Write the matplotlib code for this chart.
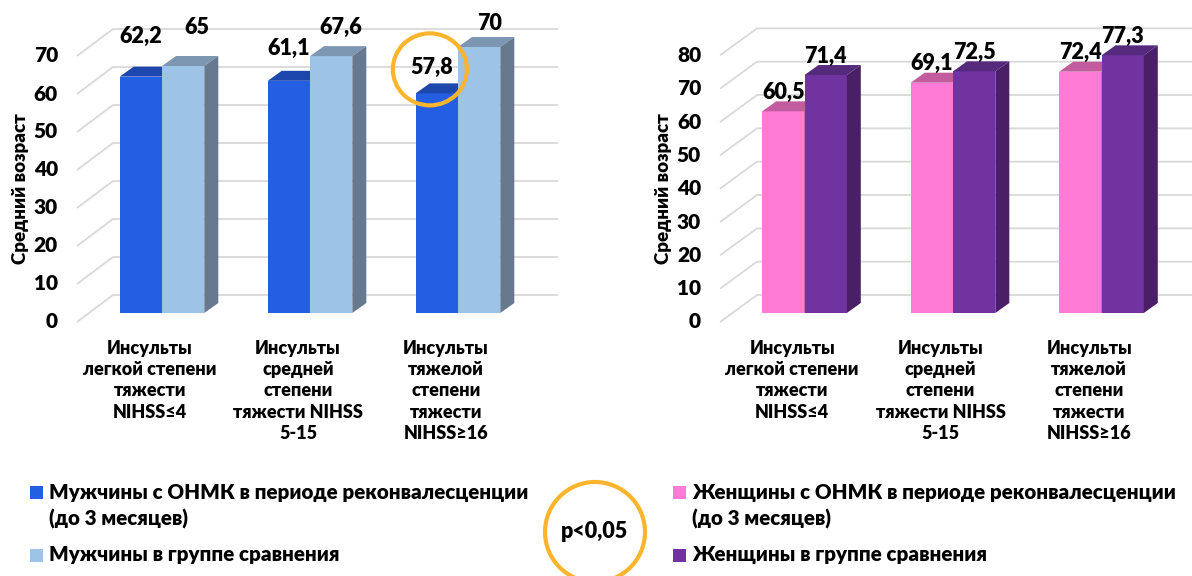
import matplotlib
matplotlib.use("Agg")
import matplotlib.pyplot as plt
from matplotlib.patches import Polygon, Rectangle, Ellipse

plt.rcParams['font.family'] = ['Lato', 'DejaVu Sans']
plt.rcParams['font.weight'] = 'heavy'

# data
categories = [
    "Инсульты\nлегкой степени\nтяжести\nNIHSS≤4",
    "Инсульты\nсредней\nстепени\nтяжести NIHSS\n5-15",
    "Инсульты\nтяжелой\nстепени\nтяжести\nNIHSS≥16",
]
men_stroke = [62.2, 61.1, 57.8]
men_control = [65, 67.6, 70]
women_stroke = [60.5, 69.1, 72.4]
women_control = [71.4, 72.5, 77.3]
men_ticks = [0, 10, 20, 30, 40, 50, 60, 70]
women_ticks = [0, 10, 20, 30, 40, 50, 60, 70, 80]
ylabel = "Средний возраст"
men_legend = ["Мужчины с ОНМК в периоде реконвалесценции\n(до 3 месяцев)",
              "Мужчины в группе сравнения"]
women_legend = ["Женщины с ОНМК в периоде реконвалесценции\n(до 3 месяцев)",
                "Женщины в группе сравнения"]
p_text = "p<0,05"

# colours: front, top, side
men_colors = [("#245FE3", "#1E47AE", "#1B3F96"), ("#9DC3E6", "#7D96B1", "#66798F")]
women_colors = [("#FF7BD6", "#C35C9E", "#A34E86"), ("#7033A0", "#552A7C", "#4B1F66")]
RING = "#FBB52C"

W, H = 1192, 576
fig = plt.figure(figsize=(W / 100, H / 100), dpi=100)


def to_fig(x, y):
    return x / W, 1 - y / H


def panel(x0, x1, cx0, step, scale, wall_x, grid_end, depth_dx, ticks,
          values, colors, label_offsets):
    """Pseudo-3D clustered bar panel. Geometry args are pixel measurements."""
    floor = 313
    ax = fig.add_axes([x0 / W, 0, (x1 - x0) / W, 1])
    ax.set_xlim((x0 - cx0) / step, (x1 - cx0) / step)
    ax.set_ylim(-(H - floor) / scale, floor / scale)
    ax.axis("off")

    px = lambda d: d / step      # horizontal pixels -> data
    py = lambda d: d / scale     # vertical pixels -> data

    # bars sit one third of the way into the depth of the box
    front_dx = -depth_dx / 3
    for v in ticks:
        xa = px(wall_x - cx0)
        ya = v - py(9)
        xb = xa + px(depth_dx)
        yb = v + py(18)
        ax.plot([xa, xb, px(grid_end - cx0)], [ya, yb, yb], color="#D9D9D9",
                lw=1.3, zorder=1, clip_on=False, solid_capstyle="butt")
        ax.text(px(wall_x - 19 - cx0), ya, str(v), ha="right", va="center",
                fontsize=15, color="black")

    w = px(42.3)
    sdx, sdy = px(14), py(10)
    for s, (vals, (c_front, c_top, c_side)) in enumerate(zip(values, colors)):
        lefts = [i - w + s * w for i in range(len(vals))]
        ax.bar(lefts, vals, width=w, align="edge", color=c_front,
               edgecolor="none", zorder=2 + s)
        for xl, v in zip(lefts, vals):
            ax.add_patch(Polygon([(xl, v), (xl + w, v), (xl + w + sdx, v + sdy),
                                  (xl + sdx, v + sdy)], closed=True,
                                 facecolor=c_top, edgecolor="none", zorder=2 + s))
            ax.add_patch(Polygon([(xl + w, 0), (xl + w + sdx, sdy),
                                  (xl + w + sdx, v + sdy), (xl + w, v)],
                                 closed=True, facecolor=c_side,
                                 edgecolor="none", zorder=2 + s))
        for i, (xl, v) in enumerate(zip(lefts, vals)):
            dx, dy = label_offsets[s][i]
            ax.annotate(f"{v:g}".replace(".", ","), (xl + w / 2, v),
                        xytext=(dx, dy), textcoords="offset pixels",
                        ha="center", va="center", fontsize=15.5, zorder=6)

    for i, cat in enumerate(categories):
        ax.text(i + px(front_dx), -py(340 - floor), cat, ha="center",
                va="top", fontsize=13, linespacing=1.3)
    return ax, px, py


ax_m, pxm, pym = panel(0, 596, 162, 148, 3.8, 77, 558, 36, men_ticks,
                       [men_stroke, men_control], men_colors,
                       [[(0, 40), (0, 32), (-5, 26)],
                        [(14, 39), (10, 29), (10, 24)]])
ax_w, pxw, pyw = panel(596, 1192, 804.5, 148.5, 3.333, 720, 1192, 37,
                       women_ticks, [women_stroke, women_control], women_colors,
                       [[(0, 19)] * 3, [(0, 19)] * 3])

# axis titles
for x in (21, 663):
    fig.text(*to_fig(x, 189), ylabel, rotation=90, ha="center", va="center",
             fontsize=13.5)

# ring around the 57,8 label
w_m = pxm(42.3)
ax_m.add_patch(Ellipse((2 - w_m / 2 - pxm(7), men_stroke[2] + pym(24)),
                       width=pxm(74), height=pym(72), fill=False,
                       edgecolor=RING, lw=3, zorder=7, clip_on=False))


# legends
def legend(x_sq, x_txt, labels, colors):
    rows = [492, 555]
    for lab, (c, _, _), y in zip(labels, colors, rows):
        fx, fy = to_fig(x_sq, y + 6.5)
        fig.patches.append(Rectangle((fx, fy), 13 / W, 13 / H, facecolor=c,
                                     edgecolor="none", transform=fig.transFigure))
        fig.text(*to_fig(x_txt, y - 9.5), lab, ha="left", va="top", fontsize=14.8,
                 linespacing=1.45)


legend(30, 49, men_legend, men_colors)
legend(673, 692, women_legend, women_colors)

# significance ring
cx, cy = to_fig(595, 532)
fig.patches.append(Ellipse((cx, cy), 100 / W, 100 / H, fill=False,
                           edgecolor=RING, lw=3, transform=fig.transFigure))
fig.text(cx, cy, p_text, ha="center", va="center", fontsize=15.5)

fig.savefig("out.png", dpi=100)
